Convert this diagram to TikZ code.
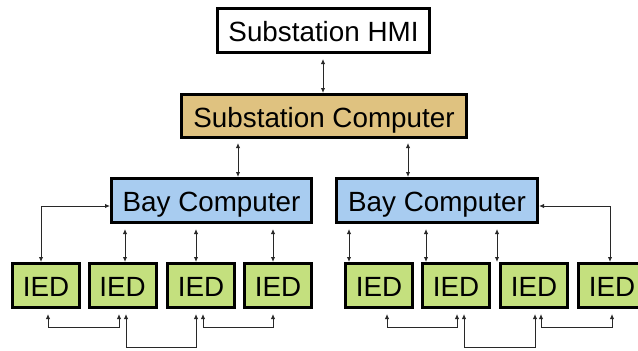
\documentclass[tikz,border=0pt]{standalone}
\usepackage{fontspec}
\setmainfont{Liberation Sans}
\usetikzlibrary{arrows.meta}
\definecolor{tanfill}{RGB}{223,194,128}
\definecolor{bayfill}{RGB}{168,204,240}
\definecolor{iedfill}{RGB}{196,224,126}
\definecolor{conncol}{RGB}{40,40,40}
\tikzset{
  box/.style={draw=black, line width=3pt, inner sep=0pt, text height=22pt, text depth=0pt, font=\fontsize{27.8}{30}\selectfont, text=black},
  ied/.style={box, fill=iedfill, minimum width=67pt, minimum height=44pt},
  bay/.style={box, fill=bayfill, minimum width=200pt, minimum height=44pt},
  conn/.style={draw=conncol, line width=1pt, {Latex[length=5pt,width=4.5pt]}-{Latex[length=5pt,width=4.5pt]}},
}
\begin{document}
\begin{tikzpicture}
\useasboundingbox (0,0) rectangle (638pt,-351pt);
\clip (0,0) rectangle (638pt,-351pt);
% top boxes
\node[box, fill=white, minimum width=212pt, minimum height=44pt] (hmi) at (323.5pt,-30.5pt) {Substation HMI};
\node[box, fill=tanfill, minimum width=285pt, minimum height=43pt] (sc) at (324pt,-116pt) {Substation Computer};
\node[bay] (bayL) at (211.5pt,-200.5pt) {Bay Computer};
\node[bay, minimum width=201pt] (bayR) at (437pt,-200.5pt) {Bay Computer};
% IEDs
\node[ied] (i1) at (46pt,-285.5pt) {IED};
\node[ied] (i2) at (122.5pt,-285.5pt) {IED};
\node[ied] (i3) at (201pt,-285.5pt) {IED};
\node[ied] (i4) at (278pt,-285.5pt) {IED};
\node[ied] (r1) at (379pt,-285.5pt) {IED};
\node[ied] (r2) at (456pt,-285.5pt) {IED};
\node[ied] (r3) at (534pt,-285.5pt) {IED};
\node[ied] (r4) at (612pt,-285.5pt) {IED};
% HMI - SC
\draw[conn, shorten <=5pt] ([xshift=-0.5pt]hmi.south) -- ([xshift=-0.5pt]hmi.south |- sc.north);
% SC - bays
\draw[conn, shorten <=4pt] ([xshift=-86pt]sc.south) -- ([xshift=-86pt]sc.south |- bayL.north);
\draw[conn, shorten <=4pt] ([xshift=84pt]sc.south) -- ([xshift=84pt]sc.south |- bayR.north);
% left bay - IEDs
\draw[conn] ([yshift=-5.5pt]bayL.west) -| ([xshift=-5pt]i1.north);
\draw[conn, shorten <=5pt] ([xshift=2.5pt]i2.north |- bayL.south) -- ([xshift=2.5pt]i2.north);
\draw[conn, shorten <=5pt] ([xshift=-5pt]i3.north |- bayL.south) -- ([xshift=-5pt]i3.north);
\draw[conn, shorten <=5pt] ([xshift=-5pt]i4.north |- bayL.south) -- ([xshift=-5pt]i4.north);
% right bay - IEDs
\draw[conn, shorten <=5pt] ([xshift=-30pt]r1.north |- bayR.south) -- ([xshift=-30pt]r1.north);
\draw[conn, shorten <=5pt] ([xshift=-30pt]r2.north |- bayR.south) -- ([xshift=-30pt]r2.north);
\draw[conn, shorten <=5pt] ([xshift=-37pt]r3.north |- bayR.south) -- ([xshift=-37pt]r3.north);
\draw[conn] ([yshift=-5.5pt]bayR.east) -| ([xshift=-2pt]r4.north);
% bottom links left
\draw[conn, shorten <=5pt, shorten >=5pt] ([xshift=2pt]i1.south) -- ++(0,-18pt) -| ([xshift=-3.5pt]i2.south);
\draw[conn, shorten <=5pt, shorten >=5pt] ([xshift=3.5pt]i2.south) -- ++(0,-38pt) -| ([xshift=-5pt]i3.south);
\draw[conn, shorten <=5pt, shorten >=5pt] ([xshift=2pt]i3.south) -- ++(0,-18pt) -| ([xshift=-5pt]i4.south);
% bottom links right
\draw[conn, shorten <=5pt, shorten >=5pt] ([xshift=8pt]r1.south) -- ++(0,-18pt) -| ([xshift=1pt]r2.south);
\draw[conn, shorten <=5pt, shorten >=5pt] ([xshift=8pt]r2.south) -- ++(0,-38pt) -| ([xshift=1pt]r3.south);
\draw[conn, shorten <=5pt, shorten >=5pt] ([xshift=7pt]r3.south) -- ++(0,-18pt) -| ([xshift=0pt]r4.south);
\end{tikzpicture}
\end{document}
